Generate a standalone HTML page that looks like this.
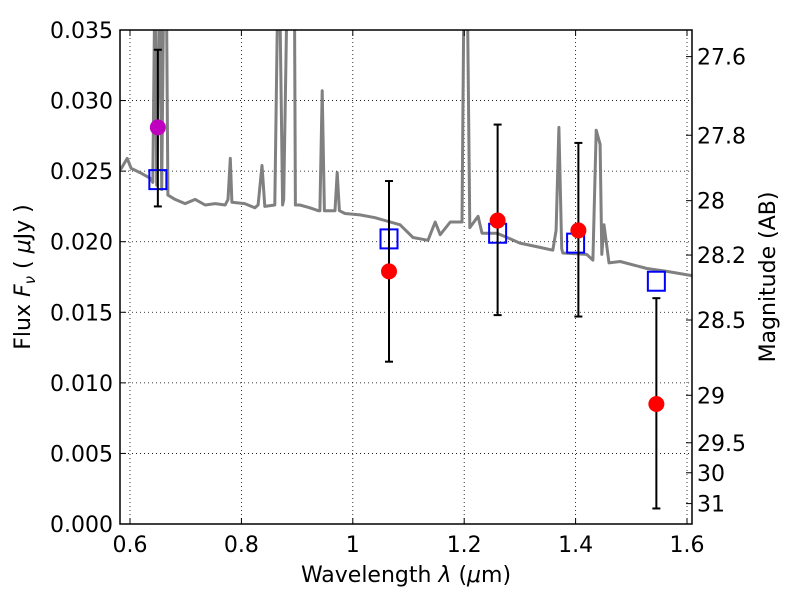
<!DOCTYPE html>
<html><head><meta charset="utf-8"><style>
html,body{margin:0;padding:0;background:#fff;}
svg{display:block;font-family:"DejaVu Sans","Liberation Sans",sans-serif;}
</style></head><body>
<svg id="chart" width="800" height="600" viewBox="0 0 800 600">
<rect x="0" y="0" width="800" height="600" fill="#fff"/>
<defs><clipPath id="clip"><rect x="120" y="30" width="572" height="494"/></clipPath></defs>
<g id="grid"></g>
<g id="spec" clip-path="url(#clip)"></g>
<g id="marks"></g>
<rect x="120" y="30" width="572" height="494" fill="none" stroke="#000" stroke-width="1.5"/>
<g id="axes" font-size="22" fill="#000"></g>
<text x="406" y="582" font-size="22" text-anchor="middle">Wavelength  <tspan font-style="italic">λ</tspan> (<tspan font-style="italic">μ</tspan>m)</text>
<text transform="translate(30,277) rotate(-90)" font-size="22" text-anchor="middle">Flux  <tspan font-style="italic">F</tspan><tspan font-style="italic" font-size="15" dy="5">ν</tspan><tspan dy="-5">  ( </tspan><tspan font-style="italic">μ</tspan>Jy )</text>
<text transform="translate(775,277) rotate(-90)" font-size="22" text-anchor="middle">Magnitude (AB)</text>
</svg>
<script>
const xTicks=[0.6,0.8,1.0,1.2,1.4,1.6];
const xTickLabels=["0.6","0.8","1","1.2","1.4","1.6"];
const yTicks=[0,0.005,0.010,0.015,0.020,0.025,0.030,0.035];
const yTickLabels=["0.000","0.005","0.010","0.015","0.020","0.025","0.030","0.035"];
const magTicks=[27.6,27.8,28,28.2,28.5,29,29.5,30,31];
const magTickLabels=["27.6","27.8","28","28.2","28.5","29","29.5","30","31"];
const specWave=[0.583,0.595,0.602,0.618,0.636,0.641,0.645,0.648,0.654,0.657,0.661,0.665,0.668,0.681,0.699,0.717,0.735,0.753,0.771,0.776,0.780,0.783,0.806,0.824,0.830,0.837,0.842,0.860,0.866,0.868,0.874,0.876,0.883,0.885,0.895,0.897,0.905,0.923,0.938,0.941,0.945,0.949,0.968,0.972,0.976,0.986,1.013,1.040,1.085,1.108,1.135,1.148,1.157,1.175,1.196,1.200,1.205,1.210,1.225,1.232,1.259,1.277,1.300,1.336,1.359,1.365,1.370,1.375,1.377,1.420,1.431,1.437,1.444,1.447,1.451,1.460,1.480,1.528,1.564,1.609];
const specFlux=[0.0251,0.0259,0.0252,0.0249,0.0245,0.0242,0.040,0.0240,0.040,0.0237,0.040,0.040,0.0233,0.0230,0.0227,0.0230,0.0226,0.0227,0.0226,0.0230,0.0259,0.0228,0.0227,0.0224,0.0226,0.0254,0.0225,0.0226,0.040,0.040,0.0226,0.0230,0.040,0.040,0.040,0.0226,0.0226,0.0224,0.0222,0.0222,0.0307,0.0222,0.0222,0.0249,0.0222,0.0220,0.0219,0.0217,0.0212,0.0203,0.0201,0.0214,0.0205,0.0214,0.0214,0.040,0.040,0.0210,0.0218,0.0206,0.0206,0.0203,0.0199,0.0196,0.0194,0.0208,0.0281,0.0195,0.0192,0.0191,0.0187,0.0279,0.0269,0.0191,0.0212,0.0185,0.0186,0.0181,0.0179,0.0176];
const obsWave=[0.650,1.065,1.260,1.405,1.545];
const obsFlux=[0.0281,0.0179,0.0215,0.0208,0.0085];
const obsLow=[0.0225,0.0115,0.0148,0.0147,0.0011];
const obsHigh=[0.0336,0.0243,0.0283,0.0270,0.0160];
const obsColor=["#bf00bf","red","red","red","red"];
const modelWave=[0.650,1.065,1.260,1.400,1.545];
const modelFlux=[0.0244,0.0202,0.0206,0.0199,0.0172];

const NS="http://www.w3.org/2000/svg";
const X0=130,PX=557/1.0;
const xs=v=>X0+(v-0.6)*PX;
const ys=v=>524-v/0.035*494;
function mk(tag,at,parent){const e=document.createElementNS(NS,tag);for(const k in at)e.setAttribute(k,at[k]);parent.appendChild(e);return e;}
const grid=document.getElementById('grid'),axes=document.getElementById('axes'),spec=document.getElementById('spec'),marks=document.getElementById('marks');
xTicks.forEach((t,i)=>{
  const x=xs(t);
  const g=mk('line',{x1:x,x2:x,y1:30,y2:524,stroke:'#000','stroke-width':0.8,'stroke-dasharray':'1,3'},grid);
  
  
  mk('line',{x1:x,x2:x,y1:524,y2:518,stroke:'#000'},axes);
  mk('line',{x1:x,x2:x,y1:30,y2:36,stroke:'#000'},axes);
  const l=mk('text',{x:x,y:552,'text-anchor':'middle'},axes);l.textContent=xTickLabels[i];
  
  
});
yTicks.forEach((t,i)=>{
  const y=ys(t);
  const g=mk('line',{x1:120,x2:692,y1:y,y2:y,stroke:'#000','stroke-width':0.8,'stroke-dasharray':'1,3'},grid);
  
  
  mk('line',{x1:120,x2:126,y1:y,y2:y,stroke:'#000'},axes);
  const l=mk('text',{x:113,y:y+8,'text-anchor':'end'},axes);l.textContent=yTickLabels[i];
  
  
});
magTicks.forEach((m,i)=>{
  const f=Math.pow(10,(23.9-m)/2.5);const y=ys(f);
  mk('line',{x1:692,x2:686,y1:y,y2:y,stroke:'#000'},axes);
  const l=mk('text',{x:697,y:y+8,'text-anchor':'start'},axes);l.textContent=magTickLabels[i];
  
  
});
const pts=specWave.map((w,i)=>xs(w).toFixed(1)+','+ys(specFlux[i]).toFixed(1)).join(' ');
const pl=mk('polyline',{points:pts,fill:'none',stroke:'#808080','stroke-width':3,'stroke-linejoin':'round'},spec);


modelWave.forEach((w,i)=>{
  const r=mk('rect',{x:xs(w)-8.5,y:ys(modelFlux[i])-9.5,width:17,height:19,fill:'none',stroke:'#0000ff','stroke-width':2},marks);
  
  
});
obsWave.forEach((w,i)=>{
  const x=xs(w),y1=ys(obsLow[i]),y2=ys(obsHigh[i]);
  const g=mk('g',{},marks);
  
  
  mk('line',{x1:x,x2:x,y1:y1,y2:y2,stroke:'#000','stroke-width':2},g);
  mk('line',{x1:x-4,x2:x+4,y1:y1,y2:y1,stroke:'#000','stroke-width':2},g);
  mk('line',{x1:x-4,x2:x+4,y1:y2,y2:y2,stroke:'#000','stroke-width':2},g);
  const c=mk('circle',{cx:x,cy:ys(obsFlux[i]),r:8,fill:obsColor[i]},marks);
  
  
});
</script>
</body></html>
